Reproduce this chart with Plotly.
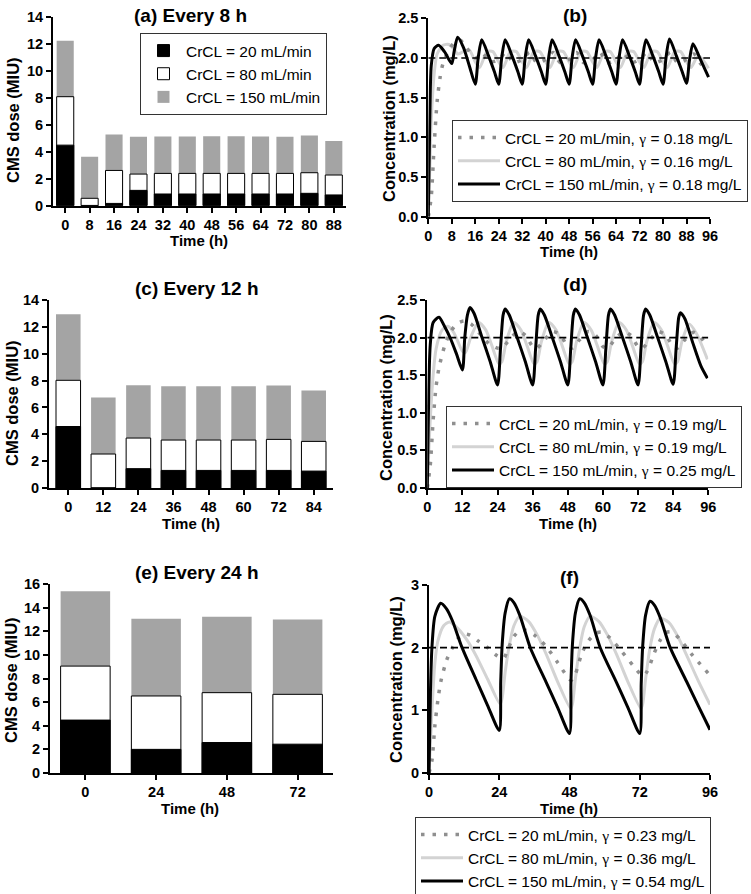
import plotly.graph_objects as go

# ---------------- data ----------------
series_names = ["CrCL = 20 mL/min", "CrCL = 80 mL/min", "CrCL = 150 mL/min"]

# Dose bars (overlaid: value = top of each bar)
a_cats = ["0", "8", "16", "24", "32", "40", "48", "56", "64", "72", "80", "88"]
a_20 = [4.5, 0.02, 0.17, 1.14, 0.87, 0.87, 0.87, 0.87, 0.87, 0.87, 0.92, 0.8]
a_80 = [8.1, 0.55, 2.62, 2.35, 2.4, 2.4, 2.4, 2.4, 2.4, 2.4, 2.45, 2.28]
a_150 = [12.25, 3.64, 5.3, 5.12, 5.15, 5.15, 5.17, 5.17, 5.15, 5.12, 5.22, 4.8]

c_cats = ["0", "12", "24", "36", "48", "60", "72", "84"]
c_20 = [4.58, 0.0, 1.44, 1.31, 1.31, 1.31, 1.31, 1.26]
c_80 = [8.02, 2.53, 3.72, 3.57, 3.57, 3.57, 3.62, 3.47]
c_150 = [12.93, 6.74, 7.66, 7.58, 7.58, 7.58, 7.63, 7.26]

e_cats = ["0", "24", "48", "72"]
e_20 = [4.48, 2.0, 2.58, 2.44]
e_80 = [9.05, 6.52, 6.8, 6.66]
e_150 = [15.38, 13.06, 13.23, 13.0]

TARGET = 2.0

# Concentration-time curves, q8h (panel b)
b20_t = [0, 1, 2, 3, 4, 5, 7, 9, 11, 13, 16, 18.5, 21, 24, 26.5, 29, 32, 34.5, 37, 40, 42.5, 45, 48,
         50.5, 53, 56, 58.5, 61, 64, 66.5, 69, 72, 74.5, 77, 80, 82.5, 85, 88, 90.5, 93, 95.5]
b20_c = [0, 0.25, 0.9, 1.45, 1.75, 1.93, 2.1, 2.2, 2.22, 2.13, 2.0, 2.06, 1.95, 1.98, 2.07, 1.94, 1.98,
         2.07, 1.94, 1.98, 2.07, 1.94, 1.98, 2.07, 1.94, 1.98, 2.07, 1.94, 1.98, 2.07, 1.94, 1.98, 2.07,
         1.94, 1.98, 2.07, 1.94, 1.98, 2.05, 1.92, 1.86]
b80_t = [0, 0.5, 1, 2, 3, 5, 7, 9, 10, 12, 14, 16, 17.5, 20, 22, 24, 25.5, 28, 30, 32, 33.5, 36, 38, 40,
         41.5, 44, 46, 48, 49.5, 52, 54, 56, 57.5, 60, 62, 64, 65.5, 68, 70, 72, 73.5, 76, 78, 80, 81.5,
         84, 86, 88, 89.5, 92, 95.5]
b80_c = [0, 0.6, 1.2, 1.8, 2.05, 2.16, 2.17, 2.1, 2.05, 2.08, 2.1, 1.95, 1.88, 2.08, 2.08, 1.95, 1.88,
         2.08, 2.08, 1.95, 1.88, 2.08, 2.08, 1.95, 1.88, 2.08, 2.08, 1.95, 1.88, 2.08, 2.08, 1.95, 1.88,
         2.08, 2.08, 1.95, 1.88, 2.08, 2.08, 1.95, 1.88, 2.08, 2.08, 1.95, 1.88, 2.08, 2.08, 1.95, 1.88,
         2.03, 1.87]
b150_t = [0, 0.5, 1, 2, 3.5, 5.5, 8, 8.8, 10, 12, 14, 16, 17, 18.2, 20.5, 22.5, 24, 25, 26.2, 28.5,
          30.5, 32, 33, 34.2, 36.5, 38.5, 40, 41, 42.2, 44.5, 46.5, 48, 49, 50.2, 52.5, 54.5, 56, 57,
          58.2, 60.5, 62.5, 64, 65, 66.2, 68.5, 70.5, 72, 73, 74.2, 76.5, 78.5, 80, 81, 82.2, 84.5,
          86.5, 88, 89, 90.2, 92.5, 95.5]
b150_c = [0, 1.2, 1.9, 2.12, 2.16, 2.08, 1.93, 2.08, 2.26, 2.13, 1.9, 1.67, 2.0, 2.23, 2.03, 1.83,
          1.67, 2.0, 2.23, 2.03, 1.83, 1.67, 2.0, 2.23, 2.03, 1.83, 1.67, 2.0, 2.23, 2.03, 1.83, 1.67,
          2.0, 2.23, 2.03, 1.83, 1.67, 2.0, 2.23, 2.03, 1.83, 1.67, 2.0, 2.23, 2.03, 1.83, 1.67, 2.0,
          2.23, 2.03, 1.83, 1.67, 2.0, 2.24, 2.03, 1.83, 1.68, 1.97, 2.18, 2.0, 1.76]

# q12h (panel d)
d20_t = [0, 1, 2, 3, 4, 6, 8, 10, 12.5, 15, 18, 21, 24, 25.5, 28, 31, 33.5, 36, 37.5, 40, 43, 45.5,
         48, 49.5, 52, 55, 57.5, 60, 61.5, 64, 67, 69.5, 72, 73.5, 76, 79, 81.5, 84, 85.5, 88, 91,
         93.5, 95.7]
d20_c = [0, 0.3, 0.9, 1.35, 1.6, 1.9, 2.08, 2.18, 2.22, 2.18, 2.05, 1.92, 1.86, 1.86, 1.97, 2.08,
         2.03, 1.88, 1.86, 1.97, 2.08, 2.03, 1.88, 1.86, 1.97, 2.08, 2.03, 1.88, 1.86, 1.97, 2.08,
         2.03, 1.88, 1.86, 1.97, 2.08, 2.03, 1.88, 1.86, 1.97, 2.07, 2.0, 1.88]
d80_t = [0, 1, 2, 3, 5, 7, 9, 12, 13, 15, 17.5, 20, 22, 24.5, 25.5, 27, 29.5, 32, 34, 36.5, 37.5, 39,
         41.5, 44, 46, 48.5, 49.5, 51, 53.5, 56, 58, 60.5, 61.5, 63, 65.5, 68, 70, 72.5, 73.5, 75,
         77.5, 80, 82, 84.5, 85.5, 87, 89.5, 92, 95.7]
d80_c = [0, 0.9, 1.5, 1.85, 2.1, 2.15, 2.07, 1.82, 1.8, 2.02, 2.2, 2.1, 1.9, 1.65, 1.68, 1.95, 2.2,
         2.1, 1.9, 1.65, 1.68, 1.95, 2.2, 2.1, 1.9, 1.65, 1.68, 1.95, 2.2, 2.1, 1.9, 1.65, 1.68, 1.95,
         2.2, 2.1, 1.9, 1.65, 1.68, 1.95, 2.2, 2.1, 1.9, 1.65, 1.68, 1.95, 2.18, 2.05, 1.71]
d150_t = [0, 0.5, 1, 2, 4, 6, 8, 10, 12, 12.8, 13.7, 14.6, 16, 18.7, 21.5, 24, 25, 25.9, 26.6, 28,
          30.7, 33.5, 36, 37, 37.9, 38.6, 40, 42.7, 45.5, 48, 49, 49.9, 50.6, 52, 54.7, 57.5, 60, 61,
          61.9, 62.6, 64, 66.7, 69.5, 72, 73, 73.9, 74.6, 76, 78.7, 81.5, 84, 85, 85.9, 86.5, 88,
          90.7, 93.5, 95.7]
d150_c = [0, 1.3, 1.9, 2.2, 2.27, 2.14, 1.98, 1.78, 1.57, 2.0, 2.3, 2.4, 2.32, 2.0, 1.68, 1.37, 1.85,
          2.3, 2.38, 2.3, 2.0, 1.68, 1.37, 1.85, 2.3, 2.38, 2.3, 2.0, 1.68, 1.37, 1.85, 2.3, 2.38, 2.3,
          2.0, 1.68, 1.37, 1.85, 2.3, 2.38, 2.3, 2.0, 1.68, 1.37, 1.85, 2.3, 2.38, 2.3, 2.0, 1.68,
          1.38, 1.85, 2.27, 2.33, 2.25, 1.93, 1.62, 1.46]

# q24h (panel f)
f20_t = [0, 1, 2, 3, 4, 6, 8, 10, 12, 14, 17, 20, 23, 25.5, 27, 29, 31, 33, 36, 40, 44, 48.5, 50,
         52, 54, 57, 59, 62, 66, 70, 73, 74.5, 77, 79, 81, 83, 86, 90, 96]
f20_c = [0, 0.2, 0.75, 1.15, 1.45, 1.8, 2.0, 2.15, 2.22, 2.2, 2.1, 2.0, 1.88, 1.83, 1.98, 2.18, 2.27,
         2.28, 2.2, 2.02, 1.76, 1.48, 1.58, 1.88, 2.08, 2.23, 2.25, 2.15, 1.93, 1.7, 1.55, 1.62, 1.92,
         2.12, 2.24, 2.25, 2.12, 1.88, 1.56]
f80_t = [0, 1, 2, 3, 5, 7, 10, 13, 16, 20, 24.3, 25, 26, 27.5, 29, 31, 34, 37, 40, 44, 48.4, 49, 50,
         51.5, 53, 55, 58, 61, 64, 68, 72.4, 73, 74, 75.5, 77, 79, 82, 85, 88, 92, 96]
f80_c = [0, 1.0, 1.75, 2.1, 2.35, 2.41, 2.3, 2.12, 1.88, 1.5, 1.1, 1.2, 1.6, 2.05, 2.35, 2.5, 2.42,
         2.2, 1.9, 1.45, 1.03, 1.1, 1.5, 2.0, 2.33, 2.5, 2.42, 2.2, 1.9, 1.45, 1.03, 1.1, 1.5, 2.0,
         2.3, 2.47, 2.4, 2.18, 1.88, 1.47, 1.09]
f150_t = [0, 0.5, 1, 2, 4, 6, 8, 11.3, 16, 20, 24, 24.5, 25, 26, 27.5, 29, 31, 34.6, 40, 44, 48,
          48.5, 49, 50, 51.5, 53, 55, 58.5, 64, 68, 72, 72.5, 73, 74, 75.5, 77, 79, 82.4, 88, 92, 96]
f150_c = [0, 1.3, 2.0, 2.5, 2.71, 2.62, 2.43, 2.0, 1.5, 1.08, 0.68, 1.45, 2.05, 2.55, 2.78, 2.72,
          2.52, 2.0, 1.45, 1.04, 0.63, 1.45, 2.05, 2.55, 2.78, 2.72, 2.52, 2.0, 1.45, 1.04, 0.63,
          1.42, 2.02, 2.52, 2.74, 2.68, 2.48, 2.0, 1.46, 1.07, 0.69]

gamma_b = ["0.18", "0.16", "0.18"]
gamma_d = ["0.19", "0.19", "0.25"]
gamma_f = ["0.23", "0.36", "0.54"]

# ---------------- figure ----------------
W, H = 751, 894
FONT = "Liberation Sans, Arial, sans-serif"
GRAY_BAR = "#a4a4a4"
LIGHT = "#d3d3d3"
DOT = "#8f8f8f"


def px(x):
    return x / W


def py(y):
    return 1 - y / H


fig = go.Figure()

# ---- bar panels ----
bar_panels = [
    ("x", "y", a_cats, a_20, a_80, a_150, True),
    ("x3", "y3", c_cats, c_20, c_80, c_150, False),
    ("x5", "y5", e_cats, e_20, e_80, e_150, False),
]
for xa, ya, cats, v20, v80, v150, show in bar_panels:
    fig.add_trace(go.Bar(x=cats, y=v150, name=series_names[2], width=0.7,
                         marker=dict(color=GRAY_BAR, line=dict(width=0)),
                         xaxis=xa, yaxis=ya, showlegend=show, legend="legend"))
    fig.add_trace(go.Bar(x=cats, y=v80, name=series_names[1], width=0.7,
                         marker=dict(color="white", line=dict(color="black", width=1)),
                         xaxis=xa, yaxis=ya, showlegend=show, legend="legend"))
    fig.add_trace(go.Bar(x=cats, y=v20, name=series_names[0], width=0.7,
                         marker=dict(color="black", line=dict(color="black", width=1)),
                         xaxis=xa, yaxis=ya, showlegend=show, legend="legend"))

# ---- line panels ----
GAM = "<span style='font-family:Liberation Serif'>γ</span>"
line_panels = [
    ("x2", "y2", "legend2", gamma_b, (b20_t, b20_c), (b80_t, b80_c), (b150_t, b150_c)),
    ("x4", "y4", "legend3", gamma_d, (d20_t, d20_c), (d80_t, d80_c), (d150_t, d150_c)),
    ("x6", "y6", "legend4", gamma_f, (f20_t, f20_c), (f80_t, f80_c), (f150_t, f150_c)),
]
for xa, ya, leg, gam, s20, s80, s150 in line_panels:
    fig.add_trace(go.Scatter(x=s80[0], y=s80[1], mode="lines",
                             name=f"{series_names[1]}, {GAM} = {gam[1]} mg/L",
                             line=dict(color=LIGHT, width=3, shape="spline", smoothing=0.7),
                             xaxis=xa, yaxis=ya, legend=leg, legendrank=2))
    fig.add_trace(go.Scatter(x=s20[0], y=s20[1], mode="lines",
                             name=f"{series_names[0]}, {GAM} = {gam[0]} mg/L",
                             line=dict(color=DOT, width=3.5, dash="3.5px,8px", shape="spline",
                                       smoothing=0.7),
                             xaxis=xa, yaxis=ya, legend=leg, legendrank=1))
    fig.add_trace(go.Scatter(x=s150[0], y=s150[1], mode="lines",
                             name=f"{series_names[2]}, {GAM} = {gam[2]} mg/L",
                             line=dict(color="black", width=3, shape="spline", smoothing=0.7),
                             xaxis=xa, yaxis=ya, legend=leg, legendrank=3))
    fig.add_trace(go.Scatter(x=[0, 96], y=[TARGET, TARGET], mode="lines",
                             line=dict(color="black", width=1.6, dash="7px,4px"),
                             xaxis=xa, yaxis=ya, showlegend=False, hoverinfo="skip"))

# ---- axes ----
tickfont = dict(family=FONT, size=14.5, color="black", weight="bold")
common = dict(showline=True, linecolor="black", linewidth=2, ticks="outside", ticklen=5,
              tickwidth=2, tickcolor="black", showgrid=False, zeroline=False,
              tickfont=tickfont, fixedrange=True, automargin=False)

layout_axes = dict(
    xaxis=dict(domain=[px(53), px(346)], anchor="y", type="category", range=[-0.5, 11.5], **common),
    yaxis=dict(domain=[py(205.7), py(17.3)], anchor="x", range=[0, 14], dtick=2, **common),
    xaxis2=dict(domain=[px(428.3), px(710)], anchor="y2", range=[0, 96], dtick=8, **common),
    yaxis2=dict(domain=[py(216.7), py(18.3)], anchor="x2", range=[0, 2.5], dtick=0.5,
                tickformat=".1f", **common),
    xaxis3=dict(domain=[px(49), px(333)], anchor="y3", type="category", range=[-0.55, 7.55], **common),
    yaxis3=dict(domain=[py(488), py(300)], anchor="x3", range=[0, 14], dtick=2, **common),
    xaxis4=dict(domain=[px(427.3), px(708.3)], anchor="y4", range=[0, 96], dtick=12, **common),
    yaxis4=dict(domain=[py(488), py(300)], anchor="x4", range=[0, 2.5], dtick=0.5,
                tickformat=".1f", **common),
    xaxis5=dict(domain=[px(50), px(333)], anchor="y5", type="category", range=[-0.5, 3.5], **common),
    yaxis5=dict(domain=[py(773), py(584)], anchor="x5", range=[0, 16], dtick=2, **common),
    xaxis6=dict(domain=[px(429), px(710)], anchor="y6", range=[0, 96], dtick=24, **common),
    yaxis6=dict(domain=[py(773), py(585)], anchor="x6", range=[0, 3], dtick=1, **common),
)

# ---- annotations ----
ann = []


def text(x, y, s, size, bold=True, angle=0):
    ann.append(dict(x=px(x), y=py(y), xref="paper", yref="paper", text=s, showarrow=False,
                    xanchor="center", yanchor="middle", textangle=angle,
                    font=dict(family=FONT, size=size, color="black",
                              weight="bold" if bold else "normal")))


text(190, 15, "(a) Every 8 h", 19)
text(575, 15, "(b)", 19)
text(197, 288, "(c) Every 12 h", 19)
text(575, 285, "(d)", 19)
text(197, 572, "(e) Every 24 h", 19)
text(569, 577, "(f)", 19)

text(13, 120, "CMS dose (MIU)", 16.5, angle=-90)
text(12, 403, "CMS dose (MIU)", 16.5, angle=-90)
text(11, 680, "CMS dose (MIU)", 16.5, angle=-90)
text(389, 119, "Concentration (mg/L)", 16.5, angle=-90)
text(386, 398, "Concentration (mg/L)", 16.5, angle=-90)
text(396, 680, "Concentration (mg/L)", 16.5, angle=-90)

text(199, 240, "Time (h)", 15)
text(569, 251, "Time (h)", 15)
text(191, 523, "Time (h)", 15)
text(568, 523, "Time (h)", 15)
text(190, 808, "Time (h)", 15)
text(569, 808, "Time (h)", 15)

leg_common = dict(bgcolor="white", bordercolor="#333333", borderwidth=1, xanchor="left",
                  yanchor="top", tracegroupgap=0)

fig.update_layout(
    width=W, height=H, autosize=False,
    margin=dict(l=0, r=0, t=0, b=0, pad=0, autoexpand=False),
    paper_bgcolor="white", plot_bgcolor="white",
    barmode="overlay", bargap=0.3,
    font=dict(family=FONT, color="black"),
    annotations=ann,
    legend=dict(x=px(140), y=py(33), traceorder="reversed", itemwidth=35,
                font=dict(family=FONT, size=15.5, color="black"), **leg_common),
    legend2=dict(x=px(452), y=py(120), itemwidth=42,
                 font=dict(family=FONT, size=15.5, color="black"), **leg_common),
    legend3=dict(x=px(446), y=py(406), itemwidth=42,
                 font=dict(family=FONT, size=15.5, color="black"), **leg_common),
    legend4=dict(x=px(415), y=py(817), itemwidth=42,
                 font=dict(family=FONT, size=15.5, color="black"), **leg_common),
    **layout_axes,
)

fig.write_html("out.html", config={"displayModeBar": False},
               post_script="document.body.style.margin='0';")
